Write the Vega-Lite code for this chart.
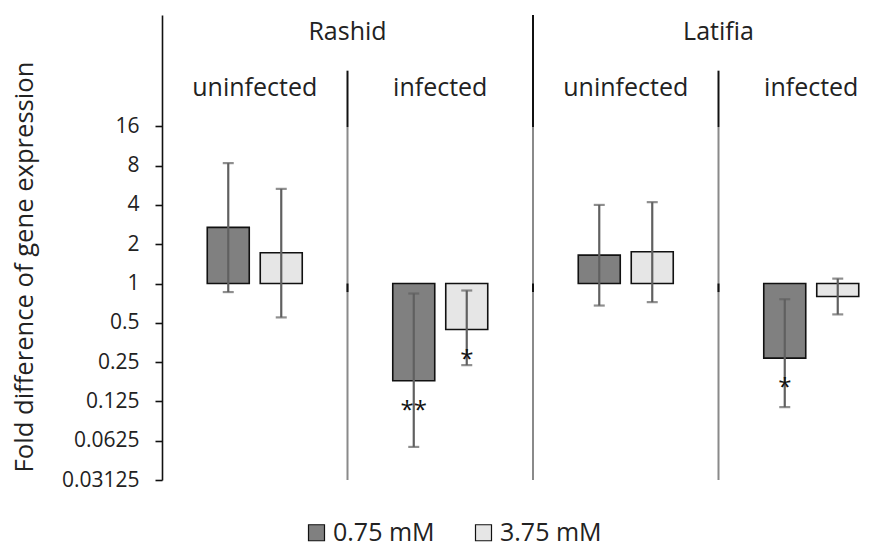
{
  "$schema": "https://vega.github.io/schema/vega-lite/v6.json",
  "width": 732,
  "height": 465,
  "autosize": {"type": "none"},
  "padding": {"left": 162, "top": 15, "right": 0, "bottom": 64},
  "background": "white",
  "config": {
    "view": {"stroke": null},
    "font": "Open Sans",
    "text": {"font": "Open Sans"}
  },
  "datasets": {
    "expr": [
      {"grp": "Rashid uninfected", "conc": "0.75 mM", "val": 2.69, "lo": 0.86, "hi": 8.36, "sig": ""},
      {"grp": "Rashid uninfected", "conc": "3.75 mM", "val": 1.72, "lo": 0.55, "hi": 5.31, "sig": ""},
      {"grp": "Rashid infected", "conc": "0.75 mM", "val": 0.18, "lo": 0.056, "hi": 0.838, "sig": "**"},
      {"grp": "Rashid infected", "conc": "3.75 mM", "val": 0.444, "lo": 0.237, "hi": 0.884, "sig": "*"},
      {"grp": "Latifia uninfected", "conc": "0.75 mM", "val": 1.65, "lo": 0.678, "hi": 4.0, "sig": ""},
      {"grp": "Latifia uninfected", "conc": "3.75 mM", "val": 1.75, "lo": 0.72, "hi": 4.2, "sig": ""},
      {"grp": "Latifia infected", "conc": "0.75 mM", "val": 0.268, "lo": 0.113, "hi": 0.758, "sig": "*"},
      {"grp": "Latifia infected", "conc": "3.75 mM", "val": 0.796, "lo": 0.58, "hi": 1.09, "sig": ""}
    ],
    "conditions": [
      {"grp": "Rashid uninfected", "label": "uninfected"},
      {"grp": "Rashid infected", "label": "infected"},
      {"grp": "Latifia uninfected", "label": "uninfected"},
      {"grp": "Latifia infected", "label": "infected"}
    ],
    "patients": [
      {"grp": "Rashid infected", "label": "Rashid"},
      {"grp": "Latifia infected", "label": "Latifia"}
    ],
    "dividers": [
      {"grp": "Rashid infected", "kind": "sub"},
      {"grp": "Latifia uninfected", "kind": "patient"},
      {"grp": "Latifia infected", "kind": "sub"}
    ]
  },
  "encoding": {
    "x": {
      "field": "grp",
      "type": "nominal",
      "axis": null,
      "scale": {
        "type": "band",
        "domain": ["Rashid uninfected", "Rashid infected", "Latifia uninfected", "Latifia infected"],
        "range": [0, 742],
        "paddingInner": 0,
        "paddingOuter": 0
      }
    }
  },
  "layer": [
    {
      "data": {"name": "dividers"},
      "mark": {"type": "rule", "color": "#8a8a8a", "strokeWidth": 2},
      "encoding": {
        "x": {"field": "grp", "type": "nominal", "bandPosition": 0},
        "y": {"datum": 0.03125, "type": "quantitative"},
        "y2": {"datum": 15.8}
      }
    },
    {
      "data": {"name": "dividers"},
      "mark": {"type": "rule", "color": "#111", "strokeWidth": 2},
      "encoding": {
        "x": {"field": "grp", "type": "nominal", "bandPosition": 0},
        "y": {"datum": 0.86, "type": "quantitative"},
        "y2": {"datum": 1}
      }
    },
    {
      "data": {"name": "dividers"},
      "transform": [{"filter": "datum.kind === 'sub'"}],
      "mark": {"type": "rule", "color": "#111", "strokeWidth": 2},
      "encoding": {
        "x": {"field": "grp", "type": "nominal", "bandPosition": 0},
        "y": {"datum": 15.8, "type": "quantitative"},
        "y2": {"datum": 42.7}
      }
    },
    {
      "data": {"name": "dividers"},
      "transform": [{"filter": "datum.kind === 'patient'"}],
      "mark": {"type": "rule", "color": "#111", "strokeWidth": 2},
      "encoding": {
        "x": {"field": "grp", "type": "nominal", "bandPosition": 0},
        "y": {"datum": 15.8, "type": "quantitative"},
        "y2": {"datum": 114}
      }
    },
    {
      "data": {"name": "expr"},
      "mark": {"type": "bar", "stroke": "#111", "strokeWidth": 1.6},
      "encoding": {
        "xOffset": {
          "field": "conc",
          "type": "nominal",
          "scale": {"domain": ["0.75 mM", "3.75 mM"], "paddingInner": 0.2075, "paddingOuter": 0.854}
        },
        "y": {
          "field": "val",
          "type": "quantitative",
          "title": "Fold difference of gene expression",
          "scale": {"type": "log", "base": 2, "domain": [0.03125, 114], "nice": false, "zero": false},
          "axis": {
            "values": [0.03125, 0.0625, 0.125, 0.25, 0.5, 1, 2, 4, 8, 16],
            "format": "~g",
            "grid": false,
            "domainColor": "#111",
            "domainWidth": 1.6,
            "tickColor": "#111",
            "tickWidth": 1.6,
            "tickSize": 7,
            "labelFont": "Open Sans",
            "labelFontSize": 21,
            "labelColor": "#222",
            "labelPadding": 16,
            "labelFlush": false,
            "labelOverlap": false,
            "labelBound": false,
            "titleFont": "Open Sans",
            "titleFontSize": 25.6,
            "titleFontWeight": "normal",
            "titleColor": "#222",
            "titleAngle": -90,
            "titleX": -138,
            "titleY": 251.5,
            "titleAlign": "center",
            "titleBaseline": "middle"
          }
        },
        "y2": {"datum": 1},
        "fill": {
          "field": "conc",
          "type": "nominal",
          "scale": {"domain": ["0.75 mM", "3.75 mM"], "range": ["#808080", "#e6e6e6"]},
          "legend": {
            "orient": "none",
            "legendX": 142,
            "legendY": 505,
            "direction": "horizontal",
            "title": null,
            "symbolType": "square",
            "symbolSize": 256,
            "symbolStrokeColor": "#111",
            "symbolStrokeWidth": 1.2,
            "symbolOpacity": 1,
            "labelFont": "Open Sans",
            "labelFontSize": 25,
            "labelColor": "#222",
            "labelOffset": 4,
            "columnPadding": 36
          }
        }
      }
    },
    {
      "data": {"name": "expr"},
      "mark": {"type": "rule", "color": "#606060", "strokeWidth": 2.2},
      "encoding": {
        "xOffset": {"field": "conc", "type": "nominal"},
        "y": {"field": "lo", "type": "quantitative"},
        "y2": {"field": "hi"}
      }
    },
    {
      "data": {"name": "expr"},
      "mark": {"type": "tick", "color": "#606060", "size": 11, "thickness": 2.2},
      "encoding": {
        "xOffset": {"field": "conc", "type": "nominal"},
        "y": {"field": "lo", "type": "quantitative"}
      }
    },
    {
      "data": {"name": "expr"},
      "mark": {"type": "tick", "color": "#606060", "size": 11, "thickness": 2.2},
      "encoding": {
        "xOffset": {"field": "conc", "type": "nominal"},
        "y": {"field": "hi", "type": "quantitative"}
      }
    },
    {
      "mark": {"type": "rule", "color": "#111", "strokeWidth": 1.8},
      "encoding": {
        "x": null,
        "y": {"datum": 1, "type": "quantitative"}
      }
    },
    {
      "data": {"name": "expr"},
      "transform": [{"filter": "datum.sig !== ''"}],
      "mark": {"type": "text", "fontSize": 24, "color": "#111", "baseline": "middle", "dy": 30},
      "encoding": {
        "xOffset": {"field": "conc", "type": "nominal"},
        "y": {"field": "val", "type": "quantitative"},
        "text": {"field": "sig"}
      }
    },
    {
      "data": {"name": "conditions"},
      "mark": {"type": "text", "fontSize": 25, "color": "#222", "baseline": "middle"},
      "encoding": {
        "y": {"datum": 31.5, "type": "quantitative"},
        "text": {"field": "label"}
      }
    },
    {
      "data": {"name": "patients"},
      "mark": {"type": "text", "fontSize": 25, "color": "#222", "baseline": "middle"},
      "encoding": {
        "x": {"field": "grp", "type": "nominal", "bandPosition": 0},
        "y": {"datum": 84, "type": "quantitative"},
        "text": {"field": "label"}
      }
    }
  ]
}
